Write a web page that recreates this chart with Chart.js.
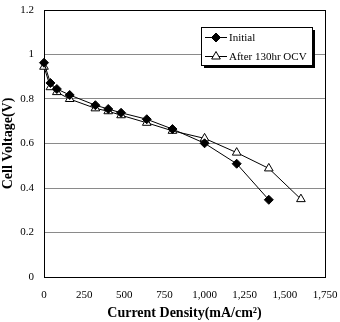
<!DOCTYPE html>
<html>
<head>
<meta charset="utf-8">
<script src="https://cdn.jsdelivr.net/npm/chart.js@4"></script>
<style>
  html, body { margin: 0; padding: 0; background: #fff; }
  #wrap { width: 340px; height: 322px; }
</style>
</head>
<body>
<div id="wrap"><canvas id="c" width="340" height="322"></canvas></div>
<script>
// ===== DATA =====
var seriesNames = ['Initial', 'After 130hr OCV'];
var initialX = [0, 40, 80, 160, 320, 400, 480, 640, 800, 1000, 1200, 1400];
var initialY = [0.963, 0.872, 0.845, 0.818, 0.772, 0.755, 0.738, 0.709, 0.665, 0.601, 0.509, 0.347];
var afterX = [0, 40, 80, 160, 320, 400, 480, 640, 800, 1000, 1200, 1400, 1600];
var afterY = [0.945, 0.853, 0.831, 0.800, 0.758, 0.745, 0.727, 0.693, 0.657, 0.623, 0.559, 0.488, 0.350];
var xTicks = [0, 250, 500, 750, 1000, 1250, 1500, 1750];
var yTicks = [0, 0.2, 0.4, 0.6, 0.8, 1, 1.2];

var FONT = '"Liberation Serif", "Times New Roman", serif';

var toPoints = function (xs, ys) {
    return xs.map(function (x, i) { return { x: x, y: ys[i] }; });
};

// Legend box with drop shadow, drawn on top of the plot.
var boxLegend = {
    id: 'boxLegend',
    afterDraw: function (chart) {
        var ctx = chart.ctx;
        var bx = 201, by = 27, bw = 111, bh = 38;
        ctx.save();
        ctx.fillStyle = '#000';
        ctx.fillRect(bx + 3, by + 3, bw, bh);
        ctx.fillStyle = '#fff';
        ctx.fillRect(bx, by, bw, bh);
        ctx.strokeStyle = '#000';
        ctx.lineWidth = 1;
        ctx.strokeRect(bx + 0.5, by + 0.5, bw, bh);
        ctx.font = '11px ' + FONT;
        ctx.textBaseline = 'middle';
        chart.data.datasets.forEach(function (ds, i) {
            var ly = by + 10 + i * 19;
            ctx.strokeStyle = '#000';
            ctx.lineWidth = 1;
            ctx.beginPath();
            ctx.moveTo(bx + 4, ly + 0.5);
            ctx.lineTo(bx + 26, ly + 0.5);
            ctx.stroke();
            ctx.fillStyle = ds.pointBackgroundColor;
            ctx.strokeStyle = ds.pointBorderColor;
            Chart.helpers.drawPoint(ctx, {
                pointStyle: ds.pointStyle,
                radius: ds.pointRadius,
                rotation: 0,
                borderWidth: 1
            }, bx + 15, ly + 0.5);
            ctx.fillStyle = '#000';
            ctx.fillText(ds.label, bx + 28, ly + 1);
        });
        ctx.restore();
    }
};

new Chart(document.getElementById('c'), {
    type: 'line',
    data: {
        datasets: [{
            label: seriesNames[0],
            data: toPoints(initialX, initialY),
            borderColor: '#000',
            borderWidth: 1,
            backgroundColor: '#000',
            pointBackgroundColor: '#000',
            pointBorderColor: '#000',
            pointStyle: 'rectRot',
            pointRadius: 4.5,
            pointBorderWidth: 1,
            tension: 0,
            clip: false
        }, {
            label: seriesNames[1],
            data: toPoints(afterX, afterY),
            borderColor: '#000',
            borderWidth: 1,
            backgroundColor: '#fff',
            pointBackgroundColor: '#fff',
            pointBorderColor: '#000',
            pointStyle: 'triangle',
            pointRadius: 5,
            pointBorderWidth: 1,
            tension: 0,
            clip: false
        }]
    },
    options: {
        responsive: false,
        animation: false,
        devicePixelRatio: 1,
        layout: { padding: { left: 0, right: 15, top: 10, bottom: 0 } },
        plugins: {
            legend: { display: false },
            tooltip: { enabled: false }
        },
        scales: {
            x: {
                type: 'linear',
                min: 0,
                max: 1750,
                afterBuildTicks: function (scale) {
                    scale.ticks = xTicks.map(function (v) { return { value: v }; });
                },
                afterFit: function (scale) {
                    scale.height = 45;
                    scale.paddingLeft = 0;
                    scale.paddingRight = 0;
                },
                grid: { display: false, drawTicks: false },
                border: { color: '#000', width: 1 },
                ticks: {
                    padding: 12,
                    maxRotation: 0,
                    color: '#000',
                    font: { family: FONT, size: 11 },
                    callback: function (v) { return v.toLocaleString('en-US'); }
                },
                title: {
                    display: true,
                    text: 'Current Density(mA/cm²)',
                    color: '#000',
                    font: { family: FONT, size: 14, weight: 'bold' },
                    padding: { top: 0, bottom: 0 }
                }
            },
            y: {
                min: 0,
                max: 1.2,
                afterBuildTicks: function (scale) {
                    scale.ticks = yTicks.map(function (v) { return { value: v }; });
                },
                afterFit: function (scale) {
                    scale.width = 44;
                    scale.paddingTop = 0;
                    scale.paddingBottom = 0;
                },
                grid: { color: '#8a8a8a', lineWidth: 1, drawTicks: false },
                border: { color: '#000', width: 1 },
                ticks: {
                    padding: 10,
                    color: '#000',
                    font: { family: FONT, size: 11 },
                    callback: function (v) { return String(Math.round(v * 10) / 10); }
                },
                title: {
                    display: true,
                    text: 'Cell Voltage(V)',
                    color: '#000',
                    font: { family: FONT, size: 14, weight: 'bold' },
                    padding: { top: 0, bottom: 0 }
                }
            }
        }
    },
    plugins: [boxLegend, {
        id: 'frame',
        beforeDatasetsDraw: function (chart) {
            var a = chart.chartArea, ctx = chart.ctx;
            ctx.save();
            ctx.strokeStyle = '#000';
            ctx.lineWidth = 1;
            ctx.strokeRect(Math.round(a.left) + 0.5, Math.round(a.top) + 0.5,
                Math.round(a.right - a.left), Math.round(a.bottom - a.top));
            ctx.restore();
        }
    }]
});
</script>
</body>
</html>
